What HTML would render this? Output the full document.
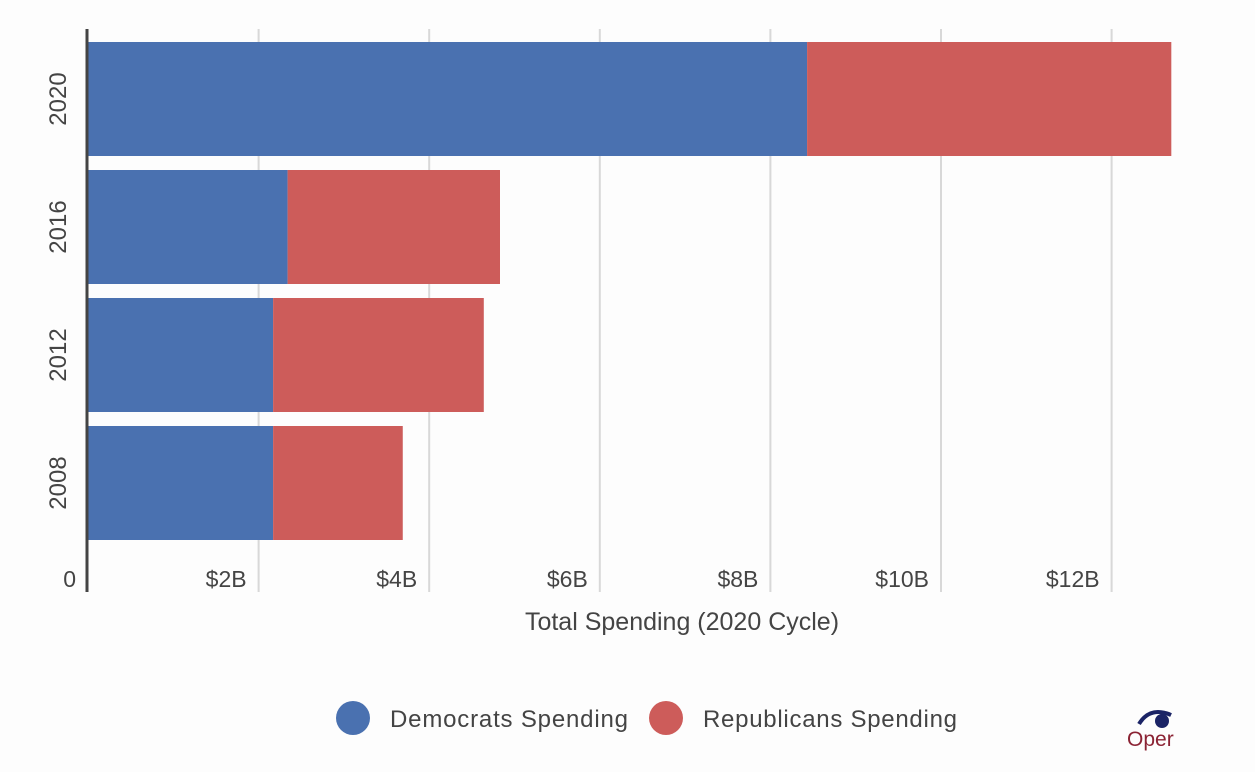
<!DOCTYPE html>
<html><head><meta charset="utf-8"><style>
body{margin:0;background:#fdfdfd;width:1255px;height:767px;overflow:hidden;font-family:"Liberation Sans",sans-serif}
</style></head><body>
<svg width="1255" height="767">
<g id="grid"></g><g id="bars"></g><g id="labels"></g>
<line x1="87" y1="29" x2="87" y2="592" stroke="#444" stroke-width="3"/>
<text x="682" y="630" font-size="25" fill="#444" text-anchor="middle">Total Spending (2020 Cycle)</text>
<g>
<circle cx="353" cy="718" r="17" fill="#4a71b0"/>
<text x="390" y="727" font-size="24" fill="#444" textLength="238">Democrats Spending</text>
<circle cx="666" cy="718" r="17" fill="#cd5c5a"/>
<text x="703" y="727" font-size="24" fill="#444" textLength="254">Republicans Spending</text>
</g>
<g>
<path d="M1139 724 Q1150 706 1171 715 Q1165 712 1160 713" stroke="#1b2466" stroke-width="4" fill="none"/>
<circle cx="1162" cy="721" r="7" fill="#1b2466"/>
<text x="1127" y="746" font-size="21" fill="#8b2334" font-family="Liberation Sans,sans-serif">Oper</text>
</g>
</svg>
<script>
const years=["2020","2016","2012","2008"];
const dem=[8.43,2.34,2.17,2.17];
const rep=[4.27,2.49,2.47,1.52];
const ticks=[0,2,4,6,8,10,12];
const tickLabels=["0","$2B","$4B","$6B","$8B","$10B","$12B"];
const NS="http://www.w3.org/2000/svg";
const x=v=>88+v*85.3;
const rowTop=i=>42+i*128;
const bh=114;
function mk(t,a,p){const e=document.createElementNS(NS,t);for(const k in a)e.setAttribute(k,a[k]);p.appendChild(e);return e;}
const g=document.getElementById('grid'),b=document.getElementById('bars'),l=document.getElementById('labels');
ticks.forEach((t,i)=>{
 if(t>0){const ln=mk('line',{x1:x(t),x2:x(t),y1:29,y2:592,stroke:'#d8d8d8','stroke-width':2},g);
 
 }
 const tx=mk('text',{x:x(t)-12,y:587,'font-size':23,fill:'#444','text-anchor':'end'},l);
 tx.textContent=tickLabels[i];
 
 
});
years.forEach((y,i)=>{
 const r1=mk('rect',{x:x(0),y:rowTop(i),width:x(dem[i])-x(0),height:bh,fill:'#4a71b0'},b);
 
 
 const r2=mk('rect',{x:x(dem[i]),y:rowTop(i),width:x(dem[i]+rep[i])-x(dem[i]),height:bh,fill:'#cd5c5a'},b);
 
 
 const cy=rowTop(i)+bh/2;
 const t=mk('text',{x:0,y:0,'font-size':24,fill:'#444','text-anchor':'middle',transform:`translate(66,${cy}) rotate(-90)`},l);
 t.textContent=y;
 
 
});
</script>
</body></html>
